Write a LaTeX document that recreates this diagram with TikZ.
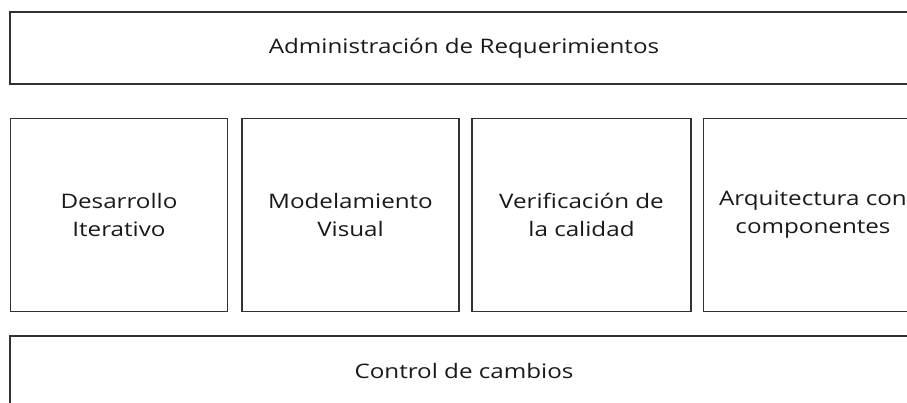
\documentclass[tikz,border=0pt]{standalone}
\usepackage{fontspec}
\setmainfont[FakeStretch=1.21]{Open Sans}
\usetikzlibrary{positioning}
\definecolor{borde}{RGB}{50,50,50}
\definecolor{texto}{RGB}{25,25,25}

\begin{document}
\begin{tikzpicture}[x = 1pt, y = -1pt,
  caja/.style = {draw = borde, line width = 1.6pt, inner sep = 0pt, align = center, text = texto, font = \fontsize{20}{28}\selectfont}]
\useasboundingbox (0,0) rectangle (907,403);
\clip (0,0) rectangle (907,403);
\node[caja, minimum width = 908pt, minimum height = 72pt] (req) at (464,48) {Administración de Requerimientos};
\node[caja, minimum width = 217pt, minimum height = 193pt] (iter) at (119,215) {Desarrollo\\Iterativo};
\node[caja, minimum width = 217pt, minimum height = 193pt] (visual) at (350.5,215) {Modelamiento\\Visual};
\node[caja, minimum width = 219pt, minimum height = 193pt] (calidad) at (581.5,215) {Verificación de\\la calidad};
\node[caja, minimum width = 219pt, minimum height = 193pt] (arq) at (813,215) {Arquitectura con\\componentes};
\node[caja, minimum width = 908pt, minimum height = 70pt] (cambios) at (464,371) {Control de cambios};
\end{tikzpicture}
\end{document}
